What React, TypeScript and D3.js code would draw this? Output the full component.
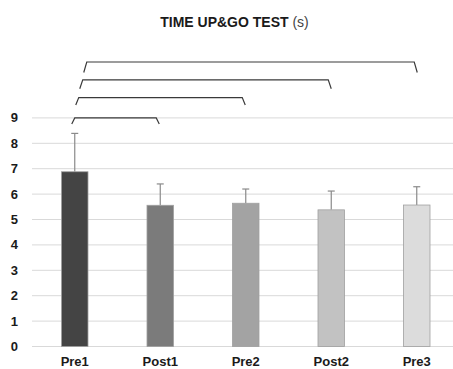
import React from "react";
import * as d3 from "d3";

const categories = ["Pre1", "Post1", "Pre2", "Post2", "Pre3"];
const means = [6.88, 5.56, 5.64, 5.38, 5.57];
const sds = [1.51, 0.84, 0.56, 0.74, 0.72];
const barColors = ["#444444", "#7b7b7b", "#a3a3a3", "#c2c2c2", "#dcdcdc"];
const yTicks = [0, 1, 2, 3, 4, 5, 6, 7, 8, 9];
// brackets: [from index, to index, level in data units]
const brackets: [number, number, number][] = [
  [0, 1, 9.0],
  [0, 2, 9.8],
  [0, 3, 10.5],
  [0, 4, 11.2],
];

const W = 453;
const H = 369;

export default function App() {
  const x = d3.scaleBand<string>().domain(categories).range([32, 459.5]).paddingInner(0.69).paddingOuter(0.345);
  const y = d3.scaleLinear().domain([0, 9]).range([346.5, 117.9]);
  const bw = x.bandwidth();
  const cx = (i: number) => (x(categories[i]) as number) + bw / 2;
  const font = "Liberation Sans, Arial, sans-serif";

  return (
    <svg width={W} height={H} style={{ position: "absolute", left: 0, top: 0, background: "#fff" }}>
      <text x={234.5} y={27} textAnchor="middle" fontFamily={font} fontSize={14} fill="#1a1a1a">
        <tspan fontWeight="bold">TIME UP&amp;GO TEST</tspan>
        <tspan fill="#444"> (s)</tspan>
      </text>
      {yTicks.map((t) => (
        <g key={t}>
          <line x1={32} x2={W} y1={y(t)} y2={y(t)} stroke="#d9d9d9" strokeWidth={1} />
          <text x={18} y={y(t)} dy="0.35em" textAnchor="end" fontFamily={font} fontWeight="bold" fontSize={13} fill="#1a1a1a">
            {t}
          </text>
        </g>
      ))}
      {categories.map((c, i) => (
        <g key={c}>
          <line x1={cx(i)} x2={cx(i)} y1={y(means[i])} y2={y(means[i] + sds[i])} stroke="#8a8a8a" strokeWidth={1.2} />
          <line x1={cx(i) - 3.5} x2={cx(i) + 3.5} y1={y(means[i] + sds[i])} y2={y(means[i] + sds[i])} stroke="#8a8a8a" strokeWidth={1.2} />
          <rect
            x={x(c)}
            y={y(means[i])}
            width={bw}
            height={y(0) - y(means[i])}
            fill={barColors[i]}
            stroke="#a0a0a0"
            strokeWidth={0.8}
          />
          <text x={cx(i)} y={366} textAnchor="middle" fontFamily={font} fontWeight="bold" fontSize={13} fill="#1a1a1a">
            {c}
          </text>
        </g>
      ))}
      {brackets.map(([a, b, lv], k) => {
        const yy = y(lv);
        const legH = 6 + k * 1.5;
        const xl = cx(a) - 1 + k * 4;
        const xr = cx(b) - 3 + k * 0.5;
        return (
          <path
            key={k}
            d={`M${xl - 2},${yy + legH} L${xl + 1},${yy} L${xr - 1},${yy} L${xr + 2},${yy + legH}`}
            fill="none"
            stroke="#3a3a3a"
            strokeWidth={1.2}
          />
        );
      })}
    </svg>
  );
}
